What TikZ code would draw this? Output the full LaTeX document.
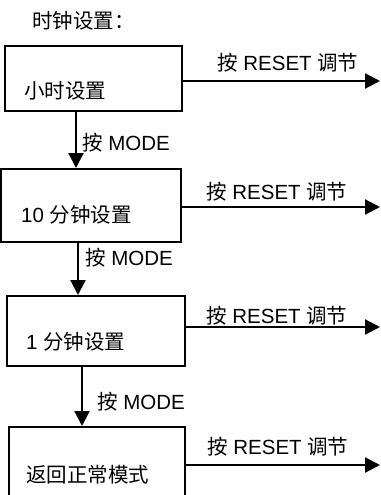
\documentclass[tikz,border=0pt]{standalone}
\usepackage{fontspec}
\setmainfont{Liberation Sans}
\newfontfamily\cjk{Noto Sans CJK SC}
\usetikzlibrary{arrows.meta}
\tikzset{
  boxst/.style={draw, line width=1.8pt, rectangle, inner sep=0pt, anchor=north west},
  txt/.style={inner sep=0pt, anchor=west, font=\fontsize{20.5}{22}\selectfont},
  arr/.style={line width=2.2pt, -{Triangle[length=15pt,width=15pt]}},
}
\begin{document}
\begin{tikzpicture}[x=1pt,y=-1pt]
\useasboundingbox (0,0) rectangle (380,495);
\clip (0,0) rectangle (380,495);
% title
\node[txt] (title) at (32,21) {{\cjk 时钟设置：}};
% boxes
\node[boxst, minimum width=177pt, minimum height=65pt] (b1) at (4,45) {};
\node[boxst, minimum width=180pt, minimum height=73pt] (b2) at (0,168) {};
\node[boxst, minimum width=178pt, minimum height=70pt] (b3) at (6,295) {};
\node[boxst, minimum width=176pt, minimum height=90pt] (b4) at (8,426) {};
% box texts
\node[txt] (t1) at (24,91) {{\cjk 小时设置}};
\node[txt] (t2) at (21,215) {10 {\cjk 分钟设置}};
\node[txt] (t3) at (26,342) {1 {\cjk 分钟设置}};
\node[txt] (t4) at (26,475) {{\cjk 返回正常模式}};
% right arrows
\coordinate (r1) at (380,81);
\coordinate (r2) at (380,207);
\coordinate (r3) at (380,327);
\coordinate (r4) at (380,465);
\draw[arr] (b1.east |- r1) -- (r1);
\draw[arr] (b2.east |- r2) -- (r2);
\draw[arr] (b3.east |- r3) -- (r3);
\draw[arr] (b4.east |- r4) -- (r4);
\node[txt] (l1) at (217,63) {{\cjk 按} RESET {\cjk 调节}};
\node[txt] (l2) at (206,192) {{\cjk 按} RESET {\cjk 调节}};
\node[txt] (l3) at (206,316) {{\cjk 按} RESET {\cjk 调节}};
\node[txt] (l4) at (207,447) {{\cjk 按} RESET {\cjk 调节}};
% down arrows
\coordinate (d1) at (76,0);
\coordinate (d2) at (78,0);
\coordinate (d3) at (82,0);
\draw[arr] (b1.south -| d1) -- (b2.north -| d1);
\draw[arr] (b2.south -| d2) -- (b3.north -| d2);
\draw[arr] (b3.south -| d3) -- (b4.north -| d3);
\node[txt] (m1) at (82,143) {{\cjk 按} MODE};
\node[txt] (m2) at (85,258) {{\cjk 按} MODE};
\node[txt] (m3) at (97,402) {{\cjk 按} MODE};
\end{tikzpicture}
\end{document}
